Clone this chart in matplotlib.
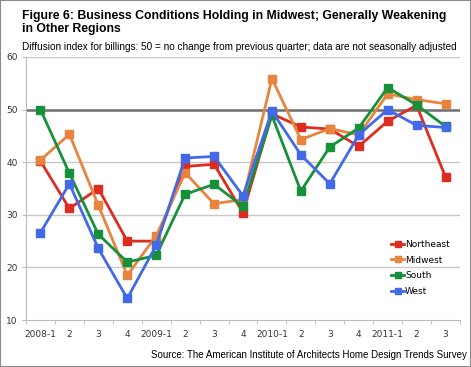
import numpy as np
import matplotlib.pyplot as plt
from matplotlib.patches import Rectangle

# quarters from 2008-1 to 2011-3
quarters = ['2008-1', '2', '3', '4', '2009-1', '2', '3', '4',
            '2010-1', '2', '3', '4', '2011-1', '2', '3']

northeast = [40.2, 31.2, 35.0, 25.0, 25.0, 39.2, 39.6, 30.4,
             49.2, 46.7, 46.3, 43.0, 47.8, 50.8, 37.2]
midwest = [40.4, 45.3, 31.8, 18.5, 26.0, 38.0, 32.1, 32.9,
           55.9, 44.3, 46.4, 45.2, 53.0, 51.9, 51.1]
south = [50.0, 37.9, 26.3, 21.0, 22.3, 33.9, 35.8, 31.6,
         48.9, 34.5, 42.9, 46.5, 54.2, 50.9, 46.8]
west = [26.6, 35.9, 23.6, 14.1, 24.2, 40.8, 41.1, 33.6,
        49.7, 41.4, 35.9, 45.2, 50.0, 47.0, 46.6]

series = [('Northeast', northeast, '#DD2C20'),
          ('Midwest', midwest, '#E8843E'),
          ('South', south, '#17903A'),
          ('West', west, '#4169E8')]

fig = plt.figure(figsize=(4.71, 3.67), dpi=100)
ax = fig.add_axes([0.0552, 0.128, 0.9214, 0.7167])

x = np.arange(len(quarters))

# gridlines and the 50 reference line
for v in [20, 30, 40, 60]:
    ax.axhline(v, color='#C8C8C8', lw=1.0, zorder=0)
ax.axhline(50, color='#6E6E6E', lw=1.8, zorder=1)

for name, vals, col in series:
    ax.plot(x, vals, color=col, lw=2.0, marker='s', markersize=5.5,
            markerfacecolor=col, markeredgecolor=col, label=name, zorder=3)

ax.set_xlim(-0.5, len(quarters) - 0.5)
ax.set_ylim(10, 60)
ax.set_yticks([10, 20, 30, 40, 50, 60])
ax.set_xticks(x)
ax.set_xticklabels(quarters)
ax.set_xticks(np.arange(-0.5, len(quarters), 1), minor=True)
ax.tick_params(axis='x', which='major', length=0, labelsize=6.5, pad=7, colors='#333333')
ax.tick_params(axis='x', which='minor', length=3, color='#BBBBBB')
ax.tick_params(axis='y', length=3, labelsize=6.5, color='#BBBBBB', colors='#333333', pad=3)

for s in ['top', 'right']:
    ax.spines[s].set_visible(False)
for s in ['left', 'bottom']:
    ax.spines[s].set_color('#BBBBBB')

ax.legend(loc='lower right', bbox_to_anchor=(0.995, 0.06), frameon=False,
          fontsize=6.5, handlelength=1.4, handletextpad=0.1,
          labelspacing=0.75, markerscale=0.7)

fig.text(0.047, 0.972, 'Figure 6: Business Conditions Holding in Midwest; Generally Weakening\nin Other Regions',
         fontsize=8.8, fontweight='bold', family='Liberation Sans', va='top', ha='left',
         linespacing=1.05)
fig.text(0.047, 0.872, 'Diffusion index for billings: 50 = no change from previous quarter; data are not seasonally adjusted',
         fontsize=7.2, family='Liberation Sans', va='center', ha='left')
fig.text(0.992, 0.033, 'Source: The American Institute of Architects Home Design Trends Survey',
         fontsize=7.0, family='Liberation Sans', va='center', ha='right')

fig.patches.append(Rectangle((0, 0), 1, 1, transform=fig.transFigure, fill=False,
                             edgecolor='#8C8C8C', lw=1.5))

fig.savefig('out.png', dpi=100)
